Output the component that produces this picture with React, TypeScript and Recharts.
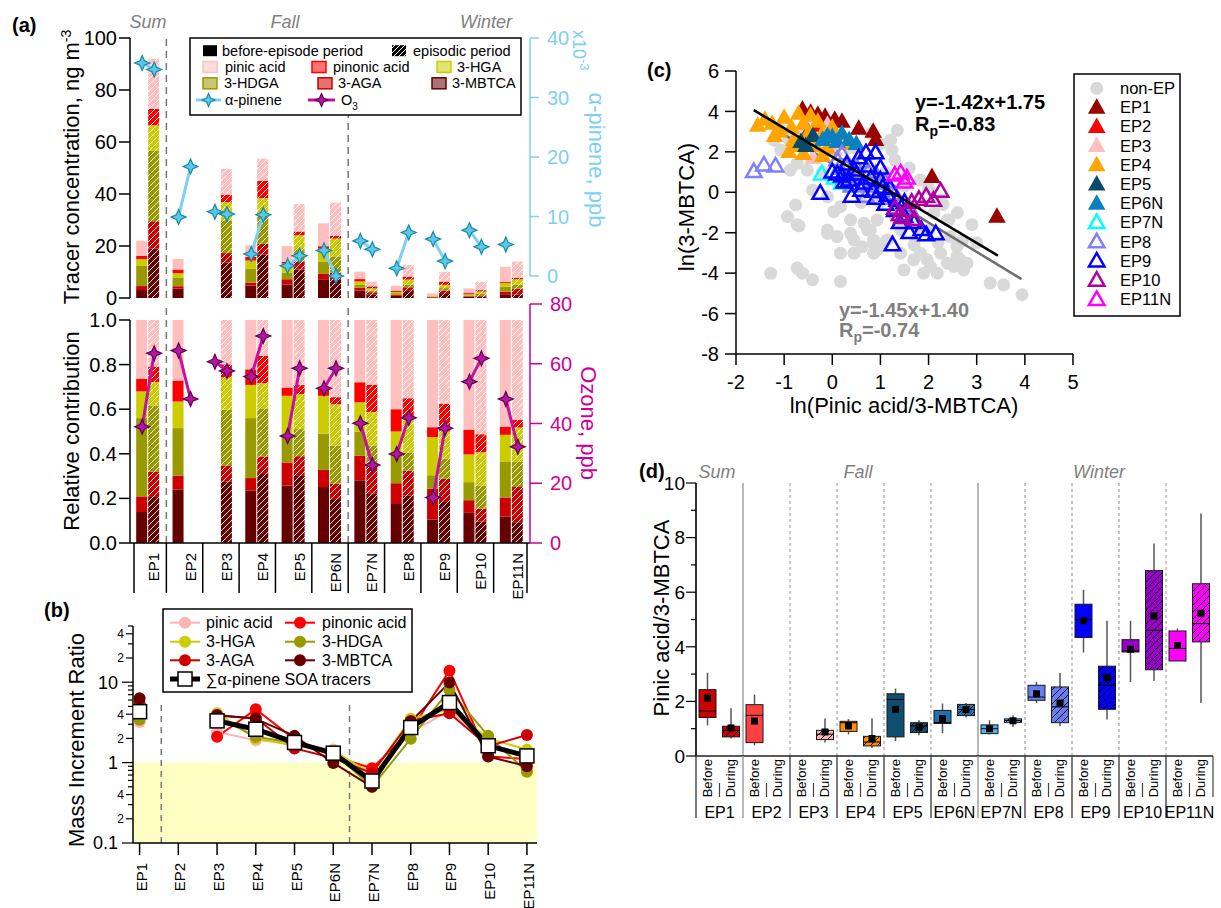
import React from 'react';
import {
  ComposedChart, ScatterChart, Bar, Line, Scatter, XAxis, YAxis,
  ReferenceLine, ReferenceArea, Cell,
} from 'recharts';

const FONT = "'Liberation Sans', Arial, Helvetica, sans-serif";

// ---------------- categories ----------------
const EPISODES = ['EP1', 'EP2', 'EP3', 'EP4', 'EP5', 'EP6N', 'EP7N', 'EP8', 'EP9', 'EP10', 'EP11N'];
const PERIOD_LABELS = ['Before', 'During'];

// ---------------- panel (a): tracer concentrations (ng m-3) ----------------
const mbtcaBefore = [3.06, 3.6, null, 4.79, 5.16, 7.2, 2.84, 0.84, 0.19, 0.5, 1.43];
const agaBefore = [1.54, 0.93, null, 1.12, 2.06, 2.21, 1.11, 0.42, 0.25, 0.21, 1.02];
const hdgaBefore = [7.72, 3.21, null, 5.46, 2.48, 4.65, 1.1, 0.6, 0.11, 0.3, 1.91];
const hgaBefore = [2.64, 1.79, null, 3.02, 3.5, 4.88, 1.32, 0.49, 0.31, 0.46, 1.46];
const pinonicBefore = [1.23, 1.41, null, 1.42, 0.74, 0.98, 0.91, 0.47, 0.08, 0.41, 0.44];
const pinicBefore = [5.81, 4.08, null, 4.49, 6.06, 8.78, 2.82, 1.88, 0.87, 1.82, 5.74];

const mbtcaDuring = [19.0, null, 13.7, 16.8, 10.97, 7.23, 1.39, 2.71, 1.86, 0.6, 1.3];
const agaDuring = [10.5, null, 3.57, 4.0, 3.08, 2.53, 0.82, 1.41, 1.05, 0.35, 2.21];
const hdgaDuring = [27.1, null, 12.37, 11.4, 4.38, 6.24, 0.54, 1.04, 0.91, 0.64, 1.57];
const hgaDuring = [9.8, null, 7.19, 6.2, 5.68, 6.83, 0.95, 1.92, 1.24, 0.93, 2.17];
const pinonicDuring = [6.4, null, 2.93, 6.6, 1.45, 1.17, 0.77, 1.17, 1.25, 0.5, 0.48];
const pinicDuring = [19.2, null, 9.87, 8.6, 10.53, 12.7, 1.83, 4.46, 3.8, 3.17, 6.27];

// alpha-pinene (x10^-3 ppb) and ozone (ppb)
const alphaPineneBefore = [35.8, 9.9, 10.8, 3.7, 1.7, 4.3, 5.9, 1.3, 6.2, 7.7, 5.3];
const alphaPineneDuring = [34.7, 18.4, 10.4, 10.3, 3.4, 0.0, 4.5, 7.3, 2.5, 4.9, null];
const ozoneBefore = [38.9, 64.4, 60.7, 55.7, 35.8, 51.8, 40.1, 29.8, 15.2, 54.0, 48.2];
const ozoneDuring = [63.5, 48.2, 57.6, 69.3, 58.5, 58.5, 26.1, 41.9, 38.4, 61.8, 32.2];

// ---------------- panel (b): mass increment ratio ----------------
const pinicMIR = [3.2, null, 2.4, 1.9, 1.75, 1.45, 0.65, 2.4, 4.4, 1.7, 1.1];
const pinonicMIR = [5.2, null, 2.1, 4.6, 1.95, 1.2, 0.85, 2.5, 13.9, 1.2, 1.1];
const hgaMIR = [3.6, null, 4.1, 2.0, 1.62, 1.4, 0.72, 3.5, 4.6, 2.0, 1.45];
const hdgaMIR = [3.4, null, 3.7, 2.1, 1.75, 1.34, 0.5, 1.98, 8.0, 2.15, 0.77];
const agaMIR = [5.4, null, 3.8, 3.6, 1.5, 1.14, 0.74, 3.3, 4.1, 1.6, 2.2];
const mbtcaMIR = [6.3, null, 3.9, 3.5, 2.15, 0.99, 0.5, 3.24, 9.9, 1.19, 0.9];
const sumMIR = [4.3, null, 3.3, 2.6, 1.78, 1.31, 0.59, 2.73, 5.58, 1.62, 1.21];

// ---------------- panel (c): ln(3-MBTCA) vs ln(pinic/3-MBTCA) ----------------
const nonEpPts = [
  [-1.28, -4.01], [-0.73, -3.75], [-0.62, -4.0], [-0.41, -4.33], [0.17, -4.41],
  [-0.93, -1.2], [-0.76, -0.63], [-0.69, -1.66], [-0.41, 0.11], [-0.1, -0.22], [0.03, -0.96], [0.17, -0.71],
  [-0.1, -1.86], [0.1, -2.19], [0.38, -2.03], [0.45, -3.01], [0.62, -2.69], [0.86, -2.52], [0.38, -1.37],
  [0.66, -1.53], [0.93, -1.37], [0.79, -1.86], [0.93, -2.85], [1.14, -2.36],
  [-1.21, 2.58], [-1.07, 2.09], [-0.87, 1.1], [-0.52, 1.1], [-0.31, 1.76], [-0.73, 1.43],
  [0.79, 2.91], [1.21, 2.58], [0.73, -1.86], [0.86, -2.36], [1.42, -1.86], [1.76, -1.7], [1.83, -3.01],
  [1.97, -3.34], [2.25, -3.01], [2.39, -3.51], [2.59, -3.18], [2.73, -3.84], [2.39, -1.37], [2.59, -2.69],
  [2.8, -3.51], [3.28, -4.49], [3.56, -4.58], [3.94, -5.07], [1.83, 0.61], [2.25, -0.38], [1.62, -0.71],
  [2.11, -1.04], [2.42, -1.37], [2.18, -4.0], [2.52, -3.67], [2.66, -3.34],
  [-0.73, -1.61], [-0.1, -2.03], [0.17, -3.01], [0.45, -2.36], [0.86, -3.01], [1.07, -2.52], [1.42, -3.01],
  [1.69, -3.34], [1.9, -4.0], [2.04, -3.67], [1.49, -3.84],
  [1.35, 3.07], [1.24, 2.09], [1.0, 2.4], [1.3, 1.6], [1.6, 1.2], [1.1, 1.0], [1.5, 0.3], [2.0, 0.2],
  [2.3, -0.6], [2.6, -1.0], [2.9, -1.6], [3.0, -2.5], [1.0, -0.5], [1.3, -1.2], [0.6, -0.5], [0.3, 0.3],
  [-0.2, 1.0], [-0.9, 2.6], [-0.5, 2.3], [0.4, 2.2], [-1.1, 3.2], [-0.6, 3.0],
  [2.45, -2.2], [2.7, -2.4], [2.2, -2.5], [1.7, -2.6], [2.0, -1.9],
];
const ep1Pts = [[-0.62, 4.1], [-0.45, 3.95], [-0.3, 3.85], [-0.15, 3.75], [0.05, 3.6], [0.2, 3.5], [0.55, 3.15], [0.85, 3.0], [0.9, 2.6], [2.07, 0.77], [3.42, -1.2]];
const ep2Pts = [[-0.5, 3.0], [-0.25, 3.3]];
const ep3Pts = [[-0.1, 3.35], [-0.4, 1.7], [0.05, 2.1]];
const ep4Pts = [
  [-1.55, 3.3], [-1.4, 3.6], [-1.25, 3.4], [-1.1, 3.0], [-1.0, 3.7], [-0.85, 3.2], [-0.8, 2.6], [-0.7, 3.9],
  [-0.6, 3.4], [-0.5, 2.9], [-0.45, 3.8], [-0.35, 2.3], [-0.3, 3.5], [-0.2, 2.9], [-0.1, 2.2], [0.0, 3.2],
  [0.1, 2.6], [-0.9, 2.0], [-0.6, 1.9], [-0.2, 1.8], [0.3, 2.4], [-1.2, 2.8], [-0.75, 2.3],
];
const ep5Pts = [[-0.65, 2.5], [-0.4, 2.8], [-0.55, 2.3]];
const ep6nPts = [[-0.2, 2.6], [0.0, 2.75], [0.2, 2.9], [0.35, 2.6], [0.5, 2.4], [0.1, 2.5], [-0.1, 2.8]];
const ep7nPts = [[-0.22, 0.9], [0.05, 0.7], [0.2, 0.45]];
const ep8Pts = [
  [-1.63, 1.02], [-1.42, 1.35], [-1.18, 1.3], [0.1, 1.6], [0.3, 1.2], [0.5, 0.8], [0.6, 1.5], [0.8, 0.3],
  [1.0, 0.0], [1.2, -0.3], [0.4, 0.3], [0.9, 0.9], [1.4, -0.6], [1.6, -0.8], [0.2, 1.9], [0.7, -0.2], [1.1, 0.5],
  [0.35, 0.75], [0.55, 0.35], [0.75, 1.0], [0.95, 0.45], [1.3, -0.1], [0.15, 1.2], [0.5, 1.25],
];
const ep9Pts = [
  [-0.25, -0.05], [0.25, 0.5], [0.0, 1.0], [0.3, 1.4], [0.55, 1.7], [0.7, 1.95], [0.9, 1.95], [0.5, 0.9],
  [0.8, 0.7], [1.0, 1.2], [0.6, 0.1], [0.9, -0.3], [1.1, -0.6], [1.3, -0.9], [1.2, 0.2], [1.5, -1.2],
  [1.7, -1.5], [1.85, -1.85], [1.95, -2.1], [2.15, -2.05], [1.6, -2.0], [1.25, -2.6], [0.4, -0.2],
  [1.4, -1.5], [1.0, 0.6], [0.2, 0.8], [1.5, -0.5],
  [0.1, 0.9], [0.35, 0.6], [0.65, 0.45], [0.75, 1.3], [1.05, 0.25], [1.15, -0.15], [1.35, -0.4], [0.45, 1.1], [0.85, 0.05],
];
const ep10Pts = [[1.3, -0.8], [1.45, -1.25], [1.55, -0.9], [1.65, -0.5], [1.8, -0.35], [1.95, -0.2], [2.1, -0.4], [2.25, 0.05], [1.7, -1.35], [1.4, -1.1]];
const ep11nPts = [[1.3, 0.85], [1.42, 0.95], [1.55, 0.7], [1.5, 0.5]];
const FIT_EP = { slope: -1.42, intercept: 1.75, xMin: -1.63, xMax: 3.44 };
const FIT_ALL = { slope: -1.45, intercept: 1.4, xMin: -1.3, xMax: 3.93 };

// ---------------- panel (d): pinic acid / 3-MBTCA box statistics ----------------
// 22 slots: EP1 Before, EP1 During, EP2 Before, ...
const whiskerLow = [1.12, 0.64, 0.39, null, null, 0.49, 0.79, 0.29, 0.55, 0.76, 0.84, 1.41, 0.79, 1.06, 1.94, 1.1, 3.79, 1.34, 2.71, 2.75, 3.48, 1.94];
const quart1 = [1.41, 0.7, 0.49, null, null, 0.6, 0.9, 0.37, 0.7, 0.86, 1.19, 1.48, 0.82, 1.23, 2.04, 1.22, 4.34, 1.71, 3.81, 3.16, 3.48, 4.18];
const medianVal = [1.65, 0.94, 1.49, null, null, 0.8, 1.22, 0.51, 2.07, 1.1, 1.23, 1.7, 1.0, 1.3, 2.16, 1.8, 5.0, 2.59, 3.85, 4.6, 3.94, 4.85];
const quart3 = [2.43, 1.09, 1.88, null, null, 0.94, 1.27, 0.72, 2.28, 1.22, 1.67, 1.89, 1.14, 1.36, 2.59, 2.53, 5.56, 3.29, 4.26, 6.79, 4.58, 6.31];
const whiskerHigh = [3.05, 1.75, 2.25, null, null, 1.37, 1.35, 1.37, 2.47, 1.31, 1.92, 1.94, 1.31, 1.49, 2.71, 3.04, 6.09, 4.95, 4.95, 7.78, 4.67, 8.88];
const meanVal = [2.12, 1.03, 1.28, null, null, 0.88, 1.1, 0.64, 1.71, 1.06, 1.37, 1.7, 1.0, 1.29, 2.28, 1.94, 4.95, 2.86, 3.91, 5.13, 4.05, 5.23];

// ---------------- styles ----------------
const AP_COLOR = '#7FCFF4';
const AP_MARK_FILL = '#5BC7EA';
const AP_MARK_STROKE = '#168AA3';
const O3_COLOR = '#CC0099';
const O3_LINE = '#C2129F';
const O3_MARK_FILL = '#B4179E';
const O3_MARK_STROKE = '#5C0057';

const TRACERS = [
  { key: 'mbtca', name: '3-MBTCA', color: '#660000', before: mbtcaBefore, during: mbtcaDuring },
  { key: 'aga', name: '3-AGA', color: '#CC0000', before: agaBefore, during: agaDuring },
  { key: 'hdga', name: '3-HDGA', color: '#999900', before: hdgaBefore, during: hdgaDuring },
  { key: 'hga', name: '3-HGA', color: '#CCCC00', before: hgaBefore, during: hgaDuring },
  { key: 'pinonic', name: 'pinonic acid', color: '#FF0000', before: pinonicBefore, during: pinonicDuring },
  { key: 'pinic', name: 'pinic acid', color: '#FFBFBF', before: pinicBefore, during: pinicDuring },
];

const MIR_SERIES = [
  { key: 'pinic', name: 'pinic acid', color: '#FFB3B3', values: pinicMIR },
  { key: 'pinonic', name: 'pinonic acid', color: '#FF0000', values: pinonicMIR },
  { key: 'hga', name: '3-HGA', color: '#CCCC00', values: hgaMIR },
  { key: 'hdga', name: '3-HDGA', color: '#999900', values: hdgaMIR },
  { key: 'aga', name: '3-AGA', color: '#CC0000', values: agaMIR },
  { key: 'mbtca', name: '3-MBTCA', color: '#660000', values: mbtcaMIR },
];

const SCATTER_GROUPS = [
  { name: 'non-EP', color: '#D9D9D9', kind: 'circle', pts: nonEpPts },
  { name: 'EP1', color: '#990000', kind: 'filled', pts: ep1Pts },
  { name: 'EP2', color: '#FF0000', kind: 'filled', pts: ep2Pts },
  { name: 'EP3', color: '#FFBFBF', kind: 'filled', pts: ep3Pts },
  { name: 'EP4', color: '#FFA500', kind: 'filled', pts: ep4Pts },
  { name: 'EP5', color: '#0A4A6A', kind: 'filled', pts: ep5Pts },
  { name: 'EP6N', color: '#0A80C0', kind: 'filled', pts: ep6nPts },
  { name: 'EP7N', color: '#00FFFF', kind: 'open', pts: ep7nPts },
  { name: 'EP8', color: '#8080FF', kind: 'open', pts: ep8Pts },
  { name: 'EP9', color: '#0000FF', kind: 'open', pts: ep9Pts },
  { name: 'EP10', color: '#B000A0', kind: 'open', pts: ep10Pts },
  { name: 'EP11N', color: '#FF00FF', kind: 'open', pts: ep11nPts },
];

const BOX_COLORS = ['#CC0000', '#FF4040', '#FFB0B0', '#FF8C00', '#0B4F71', '#1B72AE', '#4AB4F0', '#6A7DF0', '#0000FF', '#9900CC', '#FF00FF'];

// ---------------- data tables ----------------
const PAIR_OFFSET = 0.165;
const rowsA: any[] = [];
EPISODES.forEach((ep, i) => {
  ['before', 'during'].forEach((period, p) => {
    const row: any = { x: i + (p === 0 ? -PAIR_OFFSET : PAIR_OFFSET), period, ep };
    let total = 0;
    TRACERS.forEach((t: any) => {
      const v = t[period][i];
      row[t.key] = v;
      if (v != null) total += v;
    });
    TRACERS.forEach((t: any) => {
      const v = t[period][i];
      row['rel_' + t.key] = v == null || total === 0 ? null : v / total;
    });
    const ap = p === 0 ? alphaPineneBefore[i] : alphaPineneDuring[i];
    const oz = p === 0 ? ozoneBefore[i] : ozoneDuring[i];
    row.apEven = i % 2 === 0 ? ap : null;
    row.apOdd = i % 2 === 1 ? ap : null;
    row.ozEven = i % 2 === 0 ? oz : null;
    row.ozOdd = i % 2 === 1 ? oz : null;
    rowsA.push(row);
  });
});

const rowsB = EPISODES.map((ep, i) => {
  const r: any = { x: i, ep };
  MIR_SERIES.forEach((s) => { r[s.key] = s.values[i]; });
  r.sum = sumMIR[i];
  return r;
});

const rowsD = whiskerLow.map((_, s) => ({
  slot: s,
  ep: Math.floor(s / 2),
  period: s % 2,
  color: BOX_COLORS[Math.floor(s / 2)],
  lo: whiskerLow[s], q1: quart1[s], med: medianVal[s], q3: quart3[s], hi: whiskerHigh[s], mean: meanVal[s],
}));

const fitPoints = (f: any) => [
  { x: f.xMin, y: f.slope * f.xMin + f.intercept },
  { x: f.xMax, y: f.slope * f.xMax + f.intercept },
];

// ---------------- shapes ----------------
const starPath = (cx: number, cy: number, r: number) => {
  const w = r * 0.3;
  return `M${cx},${cy - r} L${cx + w},${cy - w} L${cx + r},${cy} L${cx + w},${cy + w} L${cx},${cy + r} L${cx - w},${cy + w} L${cx - r},${cy} L${cx - w},${cy - w} Z`;
};
const badNum = (v: any) => v == null || Number.isNaN(v);
const makeStarDot = (fill: string, stroke: string) => (props: any) => {
  const { cx, cy, index, value } = props;
  if (badNum(cx) || badNum(cy) || value == null) return <g key={`st-${index}`} />;
  return <path key={`st-${index}`} d={starPath(cx, cy, 7.5)} fill={fill} stroke={stroke} strokeWidth={1.2} />;
};
const makeCircleDot = (color: string) => (props: any) => {
  const { cx, cy, index, value } = props;
  if (badNum(cx) || badNum(cy) || value == null) return <g key={`c-${index}`} />;
  return <circle key={`c-${index}`} cx={cx} cy={cy} r={6} fill={color} />;
};
const squareDot = (props: any) => {
  const { cx, cy, index, value } = props;
  if (badNum(cx) || badNum(cy) || value == null) return <g key={`q-${index}`} />;
  return <rect key={`q-${index}`} x={cx - 7} y={cy - 7} width={14} height={14} fill="#fff" stroke="#000" strokeWidth={1.5} />;
};
const triPath = (cx: number, cy: number, w: number, h: number) =>
  `M${cx},${cy - h * 0.6} L${cx + w / 2},${cy + h * 0.4} L${cx - w / 2},${cy + h * 0.4} Z`;
const makeScatterShape = (kind: string, color: string) => (props: any) => {
  const { cx, cy } = props;
  if (badNum(cx) || badNum(cy)) return <g />;
  if (kind === 'circle') return <circle cx={cx} cy={cy} r={6.5} fill={color} />;
  if (kind === 'filled') return <path d={triPath(cx, cy, 17.5, 15.5)} fill={color} />;
  return <path d={triPath(cx, cy, 15.5, 13.5)} fill="none" stroke={color} strokeWidth={2.5} strokeLinejoin="miter" />;
};
const NoShape = () => <g />;

const BoxShape = (props: any) => {
  const r = props.payload || props;
  const { x, y, width, height } = props;
  if (r == null || r.q1 == null || badNum(y) || badNum(height)) return <g />;
  const top = Math.min(y, y + height);
  const bottom = Math.max(y, y + height);
  const span = r.q3 - r.q1;
  const k = span > 0 ? (bottom - top) / span : 0;
  const py = (v: number) => bottom - (v - r.q1) * k;
  const cx = x + width / 2;
  const fill = r.period === 0 ? r.color : `url(#boxHatch-${r.ep})`;
  return (
    <g>
      <line x1={cx} x2={cx} y1={py(r.hi)} y2={top} stroke="#555" strokeWidth={1.5} />
      <line x1={cx} x2={cx} y1={bottom} y2={py(r.lo)} stroke="#555" strokeWidth={1.5} />
      <rect x={x} y={top} width={width} height={bottom - top} fill={fill} stroke="#1a1a1a" strokeWidth={1} />
      <line x1={x} x2={x + width} y1={py(r.med)} y2={py(r.med)} stroke="#000" strokeWidth={1} />
      <rect x={cx - 3.5} y={py(r.mean) - 3.5} width={7} height={7} fill="#000" />
    </g>
  );
};

// ---------------- ticks ----------------
const A_BAND = 400 / 11;
const EpTickA = (props: any) => {
  const { x, y, payload } = props;
  const i = payload.value;
  const half = A_BAND / 2;
  return (
    <g>
      {i === 0 && <line x1={x - half + 4} x2={x - half + 4} y1={y} y2={y + 50} stroke="#000" strokeWidth={1.5} />}
      <line x1={x + half - (i === 10 ? 3 : 0)} x2={x + half - (i === 10 ? 3 : 0)} y1={y} y2={y + 50} stroke="#000" strokeWidth={1.5} />
      <text transform={`rotate(-90 ${x + 11} ${y + 10})`} x={x + 11} y={y + 10} textAnchor="end" fontSize={15} fontFamily={FONT} fill="#000">
        {EPISODES[i]}
      </text>
    </g>
  );
};

const EpTickB = (props: any) => {
  const { x, y, payload } = props;
  return (
    <g>
      <line x1={x} x2={x} y1={y} y2={y + 12} stroke="#000" strokeWidth={1.5} />
      <text transform={`rotate(-90 ${x + 7} ${y + 20})`} x={x + 7} y={y + 20} textAnchor="end" fontSize={15} fontFamily={FONT} fill="#000">
        {EPISODES[payload.value]}
      </text>
    </g>
  );
};

const LOG_TICKS = [0.1, 0.2, 0.3, 0.4, 0.5, 0.6, 0.7, 0.8, 0.9, 1, 2, 3, 4, 5, 6, 7, 8, 9, 10, 20, 30, 40, 50];
const LOG_LABELS: any = { '0.1': '0.1', '0.2': '2', '0.4': '4', '1': '1', '2': '2', '4': '4', '10': '10', '20': '2', '40': '4' };
const LogTick = (props: any) => {
  const { x, y, payload } = props;
  const v = payload.value;
  const major = v === 0.1 || v === 1 || v === 10;
  const lab = LOG_LABELS[String(v)];
  const len = major ? 11 : lab ? 7 : 5;
  return (
    <g>
      <line x1={x} x2={x - len} y1={y} y2={y} stroke="#000" strokeWidth={1.2} />
      {lab && (
        <text x={x - (major ? 15 : 9)} y={y} dy="0.36em" textAnchor="end" fontSize={major ? 18 : 12} fontFamily={FONT} fill="#000">{lab}</text>
      )}
    </g>
  );
};

const D_SLOT = 517 / 22;
const SlotTick = (props: any) => {
  const { x, y, payload } = props;
  const s = payload.value;
  const isBefore = s % 2 === 0;
  const half = D_SLOT / 2;
  return (
    <g>
      <text transform={`rotate(-90 ${x + 4} ${y + 3})`} x={x + 4} y={y + 3} textAnchor="end" fontSize={13} fontFamily={FONT} fill="#000">
        {PERIOD_LABELS[s % 2]}
      </text>
      {isBefore && (
        <g>
          <line x1={x - half} x2={x - half} y1={y} y2={y + 62} stroke={s === 2 || s === 12 ? '#999' : '#444'} strokeWidth={1.4} />
          <line x1={x + half} x2={x + half} y1={y + 27} y2={y + 41} stroke="#444" strokeWidth={1.2} />
          <text x={x + half} y={y + 62} textAnchor="middle" fontSize={16} fontFamily={FONT} fill="#000">{EPISODES[s / 2]}</text>
        </g>
      )}
      {s === 21 && <line x1={x + half} x2={x + half} y1={y} y2={y + 41} stroke="#444" strokeWidth={1.2} />}
    </g>
  );
};

const DTick = (props: any) => {
  const { x, y, payload } = props;
  const v = payload.value;
  const major = v % 2 === 0;
  return (
    <g>
      <line x1={x} x2={x - (major ? 10 : 5)} y1={y} y2={y} stroke="#000" strokeWidth={1.2} />
      {major && <text x={x - 11} y={y} dy="0.36em" textAnchor="end" fontSize={19} fontFamily={FONT} fill="#000">{v}</text>}
    </g>
  );
};

// ---------------- panels ----------------
const range = (n: number) => Array.from({ length: n }, (_, i) => i);

function PanelATop() {
  return (
    <ComposedChart width={620} height={312} data={rowsA} margin={{ top: 38, right: 30, left: 70, bottom: 14 }}>
      <XAxis type="number" dataKey="x" domain={[-0.5, 10.5]} hide allowDataOverflow />
      <YAxis yAxisId="conc" domain={[0, 100]} ticks={[0, 20, 40, 60, 80, 100]} interval={0} width={60} tickSize={11}
        axisLine={{ stroke: '#000', strokeWidth: 1.5 }} tickLine={{ stroke: '#000', strokeWidth: 1.5 }}
        tick={{ fontSize: 20, fill: '#000', fontFamily: FONT }} />
      <YAxis yAxisId="ap" orientation="right" domain={[-3.7, 40]} allowDataOverflow ticks={[0, 10, 20, 30, 40]} interval={0}
        width={60} tickSize={9} tickMargin={8} axisLine={false} tickLine={{ stroke: AP_COLOR, strokeWidth: 1.5 }}
        tick={{ fontSize: 20, fill: AP_COLOR, fontFamily: FONT }} />
      <ReferenceLine yAxisId="ap" segment={[{ x: 10.5, y: 0 }, { x: 10.5, y: 40 }]} stroke={AP_COLOR} strokeWidth={1.5} />
      <ReferenceLine yAxisId="conc" x={0.5} stroke="#777" strokeWidth={1.5} strokeDasharray="7 5" />
      <ReferenceLine yAxisId="conc" x={5.5} stroke="#777" strokeWidth={1.5} strokeDasharray="7 5" />
      {TRACERS.map((t) => (
        <Bar key={t.key} yAxisId="conc" dataKey={t.key} stackId="conc" barSize={11} isAnimationActive={false}>
          {rowsA.map((r, j) => (
            <Cell key={j} fill={r.period === 'before' ? t.color : `url(#hatchA-${t.key})`} />
          ))}
        </Bar>
      ))}
      {['apEven', 'apOdd'].map((k) => (
        <Line key={k} yAxisId="ap" type="linear" dataKey={k} stroke={AP_COLOR} strokeWidth={3} connectNulls={false}
          dot={makeStarDot(AP_MARK_FILL, AP_MARK_STROKE)} activeDot={false} isAnimationActive={false} />
      ))}
    </ComposedChart>
  );
}

function PanelABottom() {
  return (
    <ComposedChart width={620} height={310} data={rowsA} margin={{ top: 14, right: 30, left: 70, bottom: 0 }}>
      <XAxis type="number" dataKey="x" domain={[-0.5, 10.5]} allowDataOverflow ticks={range(11)} interval={0} height={57}
        tickLine={false} tickSize={0} tickMargin={0} axisLine={{ stroke: '#000', strokeWidth: 1.5 }} tick={<EpTickA />} />
      <YAxis yAxisId="rel" domain={[0, 1.0717]} allowDataOverflow ticks={[0, 0.2, 0.4, 0.6, 0.8, 1.0]} interval={0}
        tickFormatter={(v: number) => v.toFixed(1)} width={60} tickSize={11} axisLine={false}
        tickLine={{ stroke: '#000', strokeWidth: 1.5 }} tick={{ fontSize: 20, fill: '#000', fontFamily: FONT }} />
      <YAxis yAxisId="oz" orientation="right" domain={[0, 80]} ticks={[0, 20, 40, 60, 80]} interval={0} width={60}
        tickSize={12} tickMargin={8} axisLine={{ stroke: O3_COLOR, strokeWidth: 1.5 }} tickLine={{ stroke: O3_COLOR, strokeWidth: 1.5 }}
        tick={{ fontSize: 20, fill: O3_COLOR, fontFamily: FONT }} />
      <ReferenceLine yAxisId="rel" segment={[{ x: -0.5, y: 0 }, { x: -0.5, y: 1 }]} stroke="#000" strokeWidth={1.5} />
      <ReferenceLine yAxisId="rel" x={0.5} stroke="#777" strokeWidth={1.5} strokeDasharray="7 5" />
      <ReferenceLine yAxisId="rel" x={5.5} stroke="#777" strokeWidth={1.5} strokeDasharray="7 5" />
      {TRACERS.map((t) => (
        <Bar key={t.key} yAxisId="rel" dataKey={'rel_' + t.key} stackId="rel" barSize={11} isAnimationActive={false}>
          {rowsA.map((r, j) => (
            <Cell key={j} fill={r.period === 'before' ? t.color : `url(#hatchA-${t.key})`} />
          ))}
        </Bar>
      ))}
      {['ozEven', 'ozOdd'].map((k) => (
        <Line key={k} yAxisId="oz" type="linear" dataKey={k} stroke={O3_LINE} strokeWidth={3} connectNulls={false}
          dot={makeStarDot(O3_MARK_FILL, O3_MARK_STROKE)} activeDot={false} isAnimationActive={false} />
      ))}
    </ComposedChart>
  );
}

function PanelB() {
  return (
    <ComposedChart width={620} height={318} data={rowsB} margin={{ top: 36, right: 83, left: 70, bottom: 0 }}>
      <XAxis type="number" dataKey="x" domain={[-0.17, 10.26]} allowDataOverflow ticks={range(11)} interval={0} height={65}
        tickLine={false} tickSize={0} tickMargin={0} axisLine={{ stroke: '#000', strokeWidth: 1.5 }} tick={<EpTickB />} />
      <YAxis scale="log" domain={[0.1, 50]} allowDataOverflow ticks={LOG_TICKS} interval={0} width={63}
        tickLine={false} tickSize={0} tickMargin={0} axisLine={{ stroke: '#000', strokeWidth: 1.5 }} tick={<LogTick />} />
      <ReferenceArea x1={-0.17} x2={10.26} y1={0.1} y2={1} fill="#FFFFC4" fillOpacity={1} stroke="none" />
      <ReferenceLine segment={[{ x: 0.56, y: 0.1 }, { x: 0.56, y: 6 }]} stroke="#777" strokeWidth={1.5} strokeDasharray="6 5" />
      <ReferenceLine segment={[{ x: 5.42, y: 0.1 }, { x: 5.42, y: 6 }]} stroke="#777" strokeWidth={1.5} strokeDasharray="6 5" />
      {MIR_SERIES.map((s) => (
        <Line key={s.key} type="linear" dataKey={s.key} stroke={s.color} strokeWidth={2} connectNulls={false}
          dot={makeCircleDot(s.color)} activeDot={false} isAnimationActive={false} />
      ))}
      <Line type="linear" dataKey="sum" stroke="#000" strokeWidth={5} connectNulls={false}
        dot={squareDot} activeDot={false} isAnimationActive={false} />
    </ComposedChart>
  );
}

function PanelC() {
  return (
    <ScatterChart width={581} height={380} margin={{ top: 31, right: 148, left: 40, bottom: 0 }}>
      <XAxis type="number" dataKey="x" domain={[-2, 5]} ticks={[-2, -1, 0, 1, 2, 3, 4, 5]} interval={0} height={66}
        tickSize={11} tickMargin={10} axisLine={{ stroke: '#000', strokeWidth: 1.5 }} tickLine={{ stroke: '#000', strokeWidth: 1.5 }}
        tick={{ fontSize: 20, fill: '#000', fontFamily: FONT }} />
      <YAxis type="number" dataKey="y" domain={[-8, 6]} ticks={[-8, -6, -4, -2, 0, 2, 4, 6]} interval={0} width={56}
        tickSize={11} tickMargin={6} axisLine={{ stroke: '#000', strokeWidth: 1.5 }} tickLine={{ stroke: '#000', strokeWidth: 1.5 }}
        tick={{ fontSize: 20, fill: '#000', fontFamily: FONT }} />
      <Scatter name="non-EP" data={nonEpPts.map(([x, y]) => ({ x, y }))} shape={makeScatterShape('circle', '#D9D9D9')} isAnimationActive={false} />
      <Scatter name="fit-all" data={fitPoints(FIT_ALL)} fill="#6E6E6E" line={{ stroke: '#6E6E6E', strokeWidth: 2.5 }}
        shape={NoShape} isAnimationActive={false} />
      {SCATTER_GROUPS.slice(1).map((g) => (
        <Scatter key={g.name} name={g.name} data={g.pts.map(([x, y]) => ({ x, y }))} shape={makeScatterShape(g.kind, g.color)} isAnimationActive={false} />
      ))}
      <Scatter name="fit-ep" data={fitPoints(FIT_EP)} fill="#000" line={{ stroke: '#000', strokeWidth: 2.5 }}
        shape={NoShape} isAnimationActive={false} />
    </ScatterChart>
  );
}

function PanelD() {
  return (
    <ComposedChart width={581} height={478} data={rowsD} margin={{ top: 53, right: 8, left: 16, bottom: 0 }}>
      <XAxis type="number" dataKey="slot" domain={[-0.5, 21.5]} allowDataOverflow ticks={range(22)} interval={0} height={152}
        tickLine={false} tickSize={0} tickMargin={0} axisLine={{ stroke: '#222', strokeWidth: 1.5 }} tick={<SlotTick />} />
      <YAxis domain={[0, 10]} ticks={range(11)} interval={0} width={40} tickLine={false} tickSize={0} tickMargin={0}
        axisLine={{ stroke: '#222', strokeWidth: 1.5 }} tick={<DTick />} />
      {[3.5, 5.5, 7.5, 9.5, 13.5, 15.5, 17.5, 19.5].map((v) => (
        <ReferenceLine key={v} x={v} stroke="#AAA" strokeWidth={1.3} strokeDasharray="3 3" />
      ))}
      <ReferenceLine x={1.5} stroke="#999" strokeWidth={1.4} />
      <ReferenceLine x={11.5} stroke="#999" strokeWidth={1.4} />
      <ReferenceLine segment={[{ x: -0.5, y: 0 }, { x: -0.5, y: 10 }]} stroke="#222" strokeWidth={1.5} />
      <Bar dataKey={(r: any) => (r.q1 == null ? null : [r.q1, r.q3])} barSize={17} shape={BoxShape} isAnimationActive={false} />
    </ComposedChart>
  );
}

// ---------------- static decorations ----------------
const Defs = () => (
  <svg width={0} height={0} style={{ position: 'absolute' }}>
    <defs>
      {TRACERS.map((t) => (
        <pattern key={t.key} id={`hatchA-${t.key}`} patternUnits="userSpaceOnUse" width={6} height={6}>
          <rect width={6} height={6} fill={t.color} />
          <path d="M-1,1 L1,-1 M0,6 L6,0 M5,7 L7,5" stroke="#fff" strokeWidth={1} strokeOpacity={0.9} />
        </pattern>
      ))}
      <pattern id="hatchLegend" patternUnits="userSpaceOnUse" width={5} height={5}>
        <rect width={5} height={5} fill="#000" />
        <path d="M-1,1 L1,-1 M0,5 L5,0 M4,6 L6,4" stroke="#fff" strokeWidth={1} />
      </pattern>
      {BOX_COLORS.map((c, i) => (
        <pattern key={i} id={`boxHatch-${i}`} patternUnits="userSpaceOnUse" width={7} height={7}>
          <rect width={7} height={7} fill={c} />
          <path d="M-1,1 L1,-1 M0,7 L7,0 M6,8 L8,6" stroke="#000" strokeWidth={1} />
        </pattern>
      ))}
    </defs>
  </svg>
);

const Txt = (p: any) => {
  const { x, y, rot, children, ...rest } = p;
  return (
    <text x={x} y={y} transform={rot ? `rotate(${rot} ${x} ${y})` : undefined} fontFamily={FONT} {...rest}>{children}</text>
  );
};

const LegendA = () => {
  const rows = [50.7, 67, 83.3, 100];
  const sw = (x: number, y: number, color: string) => (
    <rect x={x} y={y - 5.5} width={14} height={11} fill={color} fillOpacity={0.55} stroke={color} strokeWidth={1.5} />
  );
  const col = (k: string) => TRACERS.find((t) => t.key === k)!.color;
  return (
    <g fontFamily={FONT} fontSize={14.5}>
      <rect x={190} y={38} width={331} height={77} fill="#fff" stroke="#000" strokeWidth={1.5} />
      <rect x={203} y={rows[0] - 5.5} width={14} height={11} fill="#000" />
      <text x={222} y={rows[0]} dy="0.35em">before-episode period</text>
      <rect x={392} y={rows[0] - 5.5} width={14} height={11} fill="url(#hatchLegend)" />
      <text x={413} y={rows[0]} dy="0.35em">episodic period</text>
      {sw(203, rows[1], col('pinic'))}<text x={225} y={rows[1]} dy="0.35em">pinic acid</text>
      {sw(312, rows[1], col('pinonic'))}<text x={333} y={rows[1]} dy="0.35em">pinonic acid</text>
      {sw(437, rows[1], col('hga'))}<text x={457} y={rows[1]} dy="0.35em">3-HGA</text>
      {sw(203, rows[2], col('hdga'))}<text x={224} y={rows[2]} dy="0.35em">3-HDGA</text>
      {sw(318, rows[2], col('aga'))}<text x={338} y={rows[2]} dy="0.35em">3-AGA</text>
      {sw(432, rows[2], col('mbtca'))}<text x={452} y={rows[2]} dy="0.35em">3-MBTCA</text>
      <line x1={196} x2={221} y1={rows[3]} y2={rows[3]} stroke={AP_COLOR} strokeWidth={3} />
      <path d={starPath(208.5, rows[3], 6.5)} fill={AP_MARK_FILL} stroke={AP_MARK_STROKE} strokeWidth={1.2} />
      <text x={225} y={rows[3]} dy="0.35em">α-pinene</text>
      <line x1={308} x2={335} y1={rows[3]} y2={rows[3]} stroke={O3_LINE} strokeWidth={3} />
      <path d={starPath(321.5, rows[3], 6.5)} fill={O3_MARK_FILL} stroke={O3_MARK_STROKE} strokeWidth={1.2} />
      <text x={341} y={rows[3]} dy="0.35em">O<tspan dy={5} fontSize={10}>3</tspan></text>
    </g>
  );
};

const LegendB = () => {
  const rows = [622.7, 641.7, 660.3, 679];
  const cols = [{ l: 170, r: 200, t: 206 }, { l: 285, r: 315, t: 322 }];
  return (
    <g fontFamily={FONT} fontSize={16}>
      <rect x={163} y={609} width={249} height={83} fill="#fff" stroke="#000" strokeWidth={1.5} />
      {MIR_SERIES.map((s, i) => {
        const c = cols[i % 2];
        const y = rows[Math.floor(i / 2)];
        return (
          <g key={s.key}>
            <line x1={c.l} x2={c.r} y1={y} y2={y} stroke={s.color} strokeWidth={2} />
            <circle cx={(c.l + c.r) / 2} cy={y} r={6} fill={s.color} />
            <text x={c.t} y={y} dy="0.35em">{s.name}</text>
          </g>
        );
      })}
      <line x1={170} x2={200} y1={rows[3]} y2={rows[3]} stroke="#000" strokeWidth={5} />
      <rect x={178} y={rows[3] - 7} width={14} height={14} fill="#fff" stroke="#000" strokeWidth={1.5} />
      <text x={206} y={rows[3]} dy="0.35em">∑α-pinene SOA tracers</text>
    </g>
  );
};

const LegendC = () => (
  <g fontFamily={FONT} fontSize={16.5}>
    <rect x={1074} y={74} width={106} height={242} fill="#fff" stroke="#000" strokeWidth={1.5} />
    {SCATTER_GROUPS.map((g, i) => {
      const y = 88.3 + i * 19.2;
      return (
        <g key={g.name}>
          {makeScatterShape(g.kind, g.color)({ cx: 1096.7, cy: y })}
          <text x={1120} y={y} dy="0.35em">{g.name}</text>
        </g>
      );
    })}
  </g>
);

const Overlay = () => (
  <svg width={1221} height={908} style={{ position: 'absolute', left: 0, top: 0, pointerEvents: 'none' }}>
    {/* panel letters */}
    <Txt x={12} y={32} fontSize={20} fontWeight="bold">(a)</Txt>
    <Txt x={44} y={617} fontSize={20} fontWeight="bold">(b)</Txt>
    <Txt x={647} y={77} fontSize={20} fontWeight="bold">(c)</Txt>
    <Txt x={639} y={478} fontSize={20} fontWeight="bold">(d)</Txt>
    {/* seasons */}
    <Txt x={148} y={28} fontSize={18} fontStyle="italic" fill="#808080" textAnchor="middle">Sum</Txt>
    <Txt x={285} y={28} fontSize={18} fontStyle="italic" fill="#808080" textAnchor="middle">Fall</Txt>
    <Txt x={486} y={28} fontSize={18} fontStyle="italic" fill="#808080" textAnchor="middle">Winter</Txt>
    <Txt x={717} y={478} fontSize={18} fontStyle="italic" fill="#808080" textAnchor="middle">Sum</Txt>
    <Txt x={858} y={478} fontSize={18} fontStyle="italic" fill="#808080" textAnchor="middle">Fall</Txt>
    <Txt x={1099} y={478} fontSize={18} fontStyle="italic" fill="#808080" textAnchor="middle">Winter</Txt>
    {/* axis titles */}
    <Txt x={79} y={167} rot={-90} fontSize={22} textAnchor="middle">Tracer concentration, ng m<tspan dy={-8} fontSize={14}>-3</tspan></Txt>
    <Txt x={589} y={160} rot={90} fontSize={22} textAnchor="middle" fill={AP_COLOR}>α-pinene, ppb</Txt>
    <Txt x={573} y={30} rot={90} fontSize={18} fill={AP_COLOR}>x10<tspan dy={-7} fontSize={13}>-3</tspan></Txt>
    <Txt x={79} y={431} rot={-90} fontSize={22} textAnchor="middle">Relative contribution</Txt>
    <Txt x={581} y={423} rot={90} fontSize={22} textAnchor="middle" fill={O3_COLOR}>Ozone, ppb</Txt>
    <Txt x={84} y={740} rot={-90} fontSize={22} textAnchor="middle">Mass Increment Ratio</Txt>
    <Txt x={694} y={207} rot={-90} fontSize={22} textAnchor="middle">ln(3-MBTCA)</Txt>
    <Txt x={904} y={413} fontSize={22} textAnchor="middle">ln(Pinic acid/3-MBTCA)</Txt>
    <Txt x={669} y={618} rot={-90} fontSize={22} textAnchor="middle">Pinic acid/3-MBTCA</Txt>
    {/* regression annotations */}
    <Txt x={915} y={109} fontSize={20} fontWeight="bold">y=-1.42x+1.75</Txt>
    <Txt x={915} y={131} fontSize={20} fontWeight="bold">R<tspan dy={5} fontSize={14}>p</tspan><tspan dy={-5}>=-0.83</tspan></Txt>
    <Txt x={839} y={317} fontSize={20} fontWeight="bold" fill="#7F7F7F">y=-1.45x+1.40</Txt>
    <Txt x={839} y={337} fontSize={20} fontWeight="bold" fill="#7F7F7F">R<tspan dy={5} fontSize={14}>p</tspan><tspan dy={-5}>=-0.74</tspan></Txt>
    <LegendA />
    <LegendB />
    <LegendC />
  </svg>
);

const place = (left: number, top: number, child: any) => (
  <div style={{ position: 'absolute', left, top }}>{child}</div>
);

export default function App() {
  return (
    <div style={{ position: 'absolute', left: 0, top: 0, width: 1221, height: 908, background: '#fff', fontFamily: FONT, overflow: 'hidden' }}>
      <Defs />
      {place(0, 0, <PanelATop />)}
      {place(0, 290, <PanelABottom />)}
      {place(0, 590, <PanelB />)}
      {place(640, 40, <PanelC />)}
      {place(640, 430, <PanelD />)}
      <Overlay />
    </div>
  );
}
